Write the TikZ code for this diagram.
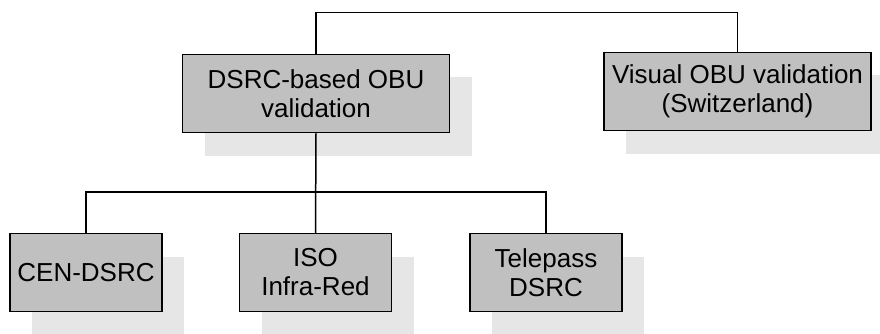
\documentclass[tikz,border=0pt]{standalone}
\usepackage{fontspec}
\setmainfont{Liberation Sans}
\usetikzlibrary{shadows}
\definecolor{boxgray}{HTML}{C0C0C0}
\definecolor{shadegray}{HTML}{E6E6E6}

\begin{document}
\begin{tikzpicture}[x=1pt,y=-1pt,
box/.style={draw,line width=1.5pt,fill=boxgray,align=center,inner sep=0pt,
 font=\fontsize{26}{29}\selectfont,
 general shadow={fill=shadegray,shadow xshift=22pt,shadow yshift=-23pt}},
wide box/.style={box,minimum width=267pt,minimum height=78pt},
small box/.style={box,minimum width=152pt,minimum height=78pt},
link/.style={line width=1.5pt}]
\useasboundingbox (0,0) rectangle (880,334);
\node[wide box] (dsrc) at (316,93.5) {DSRC-based OBU\\validation};
\node[wide box] (visual) at (737.5,91.5) {Visual OBU validation\\(Switzerland)};
\node[small box] (cen) at (86,272.5) {CEN-DSRC};
\node[small box] (iso) at (315.5,272.5) {ISO\\Infra-Red};
\node[small box] (tele) at (546,272.5) {Telepass\\DSRC};
\coordinate (bus) at (316,192);
\draw[link] (dsrc.north) -- ++(0,-41) -| (visual.north);
\draw[link] (dsrc.south) -- (iso.north);
\draw[link] (cen.north) |- (bus) -| (tele.north);
\end{tikzpicture}
\end{document}
